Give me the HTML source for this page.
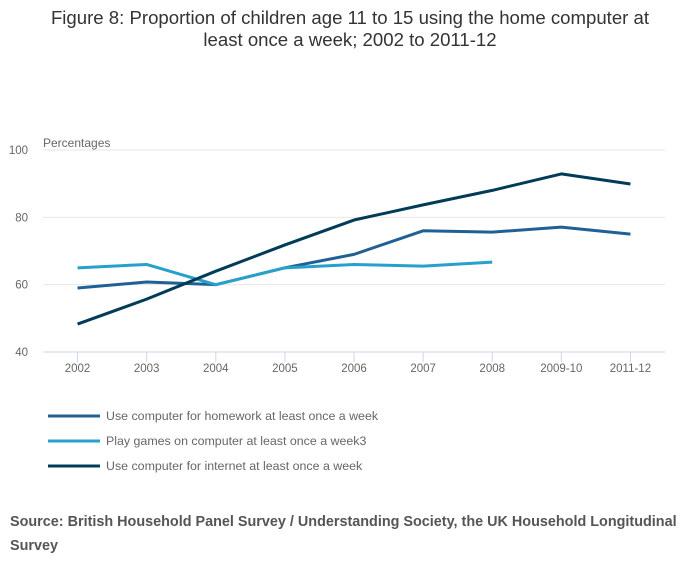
<!DOCTYPE html>
<html><head><meta charset="utf-8"><style>
body{margin:0;background:#fff;font-family:"Liberation Sans",sans-serif;}
svg{display:block}
</style></head><body>
<svg width="700" height="574" viewBox="0 0 700 574">
<text x="350" y="24" text-anchor="middle" font-size="18.6" fill="#333">Figure 8: Proportion of children age 11 to 15 using the home computer at</text>
<text x="350" y="46" text-anchor="middle" font-size="18.6" fill="#333">least once a week; 2002 to 2011-12</text>
<text x="43" y="147" font-size="12" fill="#666">Percentages</text>
<g id="grid"></g><g id="xaxis"></g><g id="series"></g><g id="legend"></g>
<text x="10" y="526" font-size="14.4" font-weight="bold" fill="#555">Source: British Household Panel Survey / Understanding Society, the UK Household Longitudinal</text>
<text x="10" y="550" font-size="14.4" font-weight="bold" fill="#555">Survey</text>
</svg>
<script>
const categories=["2002","2003","2004","2005","2006","2007","2008","2009-10","2011-12"];
const homework=[59,60.8,60,65,69,76,75.6,77.1,75];
const games=[65,66,60,65,66,65.5,66.7,null,null];
const internet=[48.3,55.7,64,71.8,79.2,83.7,88,92.9,89.9];
const yTicks=[40,60,80,100];
const seriesNames=["Use computer for homework at least once a week","Play games on computer at least once a week3","Use computer for internet at least once a week"];
const NS="http://www.w3.org/2000/svg";
const x0=43,x1=665,yTop=150,yBot=352,yMin=40,yMax=100;
const step=(x1-x0)/categories.length;
const xs=i=>x0+step*(i+0.5);
const ys=v=>yBot-(v-yMin)/(yMax-yMin)*(yBot-yTop);
function mk(t,a,p){const e=document.createElementNS(NS,t);for(const k in a)e.setAttribute(k,a[k]);p.appendChild(e);return e;}
const grid=document.getElementById('grid');
yTicks.forEach(v=>{
 const l=mk('line',{x1:x0,x2:x1,y1:ys(v),y2:ys(v),stroke:v===yMin?'#ccd6eb':'#e6e6e6','stroke-width':1},grid);
 
 
 const t=mk('text',{x:28,y:ys(v)+4,'text-anchor':'end','font-size':11.5,fill:'#666'},grid);t.textContent=v;
 
 
});
const xa=document.getElementById('xaxis');
categories.forEach((c,i)=>{
 const l=mk('line',{x1:xs(i),x2:xs(i),y1:yBot,y2:yBot+10,stroke:'#ccd6eb'},xa);
 
 
 const t=mk('text',{x:xs(i),y:yBot+20,'text-anchor':'middle','font-size':11.5,fill:'#666'},xa);t.textContent=c;
 
 
});
const colors=['#206095','#27a0cc','#003c57'];
const data=[homework,games,internet];
const sg=document.getElementById('series'),lg=document.getElementById('legend');
data.forEach((d,s)=>{
 let p='';d.forEach((v,i)=>{if(v!=null)p+=(p?'L':'M')+xs(i)+','+ys(v);});
 const path=mk('path',{d:p,fill:'none',stroke:colors[s],'stroke-width':3,'stroke-linejoin':'round'},sg);
 
 
 const ly=416+s*25;
 const ll=mk('line',{x1:48,x2:100,y1:ly,y2:ly,stroke:colors[s],'stroke-width':3},lg);
 
 
 const lt=mk('text',{x:106,y:ly+4,'font-size':12.4,fill:'#666'},lg);lt.textContent=seriesNames[s];
 
 
});
</script>
</body></html>
